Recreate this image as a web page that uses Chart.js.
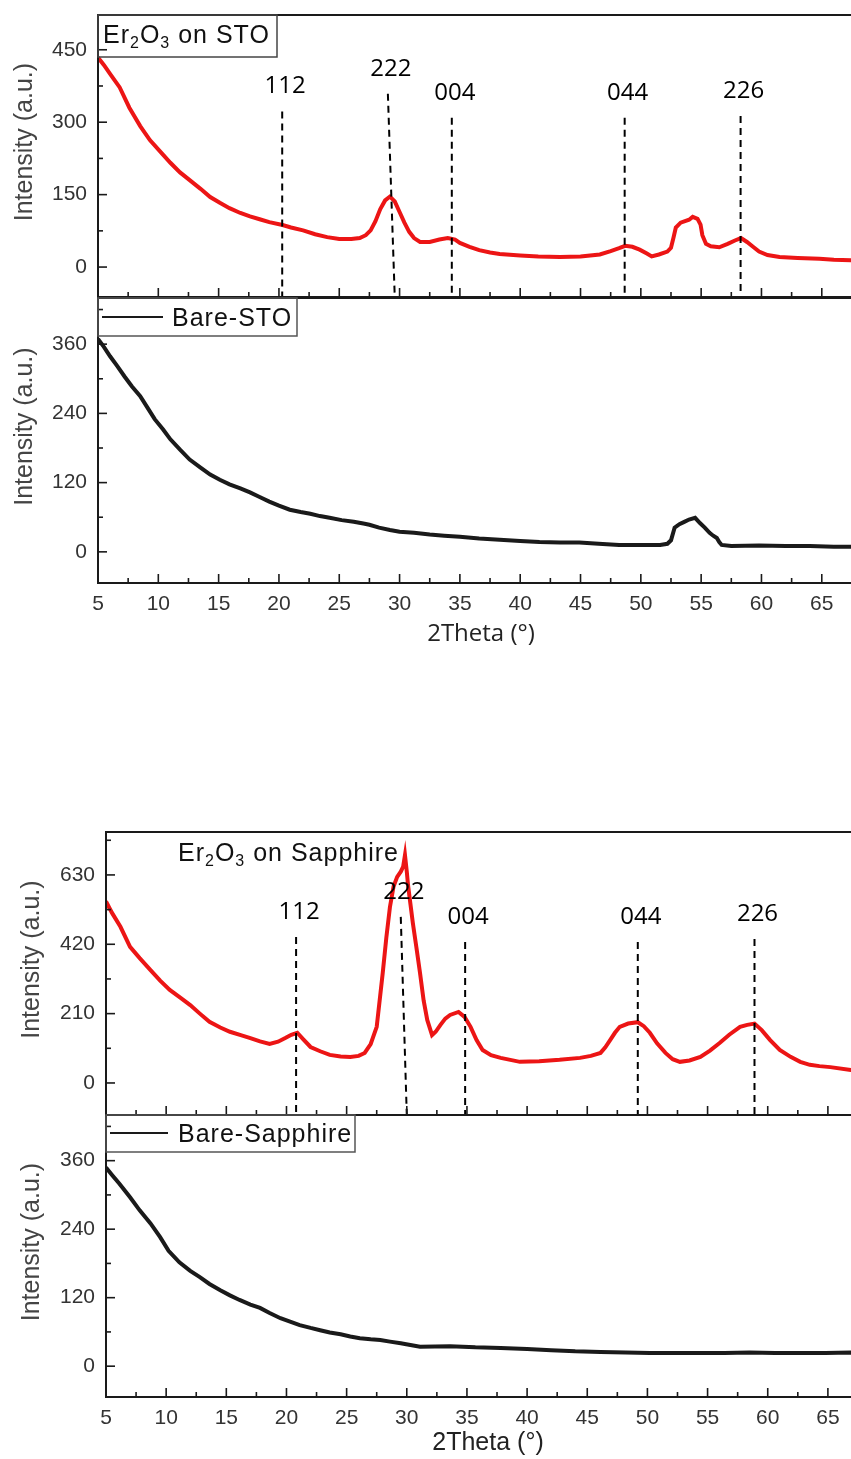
<!DOCTYPE html>
<html>
<head>
<meta charset="utf-8">
<script src="https://cdn.jsdelivr.net/npm/chart.js@4.4.0/dist/chart.umd.min.js"></script>
<style>
  html, body { margin: 0; padding: 0; background: #fff; }
  #page { position: relative; width: 851px; height: 1459px; overflow: hidden; background: #fff; }
  #page canvas { position: absolute; left: 0; }
</style>
</head>
<body>
<div id="page">
  <canvas id="stoFilm" width="870" height="298" style="top:0px"></canvas>
  <canvas id="stoBare" width="870" height="362" style="top:290px"></canvas>
  <canvas id="sapFilm" width="876" height="293" style="top:825px"></canvas>
  <canvas id="sapBare" width="876" height="352" style="top:1108px"></canvas>
</div>
<script>
// 2theta tick labels (shared by all four panels)
const angleTicks = [5, 10, 15, 20, 25, 30, 35, 40, 45, 50, 55, 60, 65];

// y tick labels per panel
const stoFilmTicks = [0, 150, 300, 450];
const stoBareTicks = [0, 120, 240, 360];
const sapFilmTicks = [0, 210, 420, 630];
const sapBareTicks = [0, 120, 240, 360];

// Er2O3 on STO (red)
const stoFilmAngle = [5.0, 5.5, 6.0, 6.8, 7.6, 8.5, 9.3, 10.2, 11.0, 11.8, 12.6, 13.5, 14.3, 15.1, 15.9, 16.8, 17.6, 18.4, 19.2, 20.3,
  21.0, 22.0, 23.0, 24.0, 25.0, 26.0, 26.7, 27.2, 27.6, 28.0, 28.4, 28.8, 29.2, 29.6, 30.0, 30.4, 30.8, 31.2, 31.7, 32.5,
  33.3, 34.0, 34.6, 35.0, 35.8, 36.6, 37.5, 38.3, 40.0, 41.5, 43.3, 45.0, 46.6, 47.5, 48.2, 48.7, 49.3, 49.9, 50.5, 50.9,
  51.5, 52.2, 52.5, 52.7, 52.9, 53.3, 54.0, 54.3, 54.7, 54.95, 55.1, 55.4, 55.8, 56.5, 57.2, 57.8, 58.3, 58.8, 59.3, 59.8,
  60.5, 61.5, 63.0, 64.8, 66.0, 67.4, 68.5];
const stoFilmCounts = [434, 418, 400, 372, 330, 292, 263, 238, 216, 196, 180, 162, 145, 133, 122, 112, 105, 99, 93, 87,
  82, 76, 68, 62, 58, 58, 60, 66, 76, 95, 120, 138, 146, 136, 114, 92, 73, 60, 52, 52,
  57, 60, 57, 50, 42, 35, 30, 27, 24, 22, 21, 22, 26, 33, 39, 44, 42, 36, 28, 22,
  26, 32, 40, 60, 82, 92, 98, 104, 100, 88, 66, 48, 43, 41, 48, 55, 60, 52, 42, 32,
  25, 21, 19, 17, 15, 14, 13];

// Bare-STO (black)
const stoBareAngle = [5.0, 5.5, 6.0, 6.6, 7.2, 7.8, 8.5, 9.1, 9.7, 10.4, 11.0, 11.8, 12.6, 13.5, 14.3, 15.1, 15.9, 16.8, 17.6, 18.4,
  19.2, 20.0, 20.9, 21.8, 22.6, 23.4, 24.2, 25.2, 26.2, 27.0, 27.5, 28.3, 29.2, 30.0, 31.2, 32.5, 33.7, 35.0, 36.6, 38.3,
  40.0, 41.6, 43.3, 44.9, 46.5, 48.2, 50.0, 51.6, 52.2, 52.5, 52.8, 53.2, 53.6, 54.0, 54.5, 54.9, 55.3, 55.7, 56.0, 56.3,
  56.5, 56.7, 57.5, 59.8, 62.0, 64.0, 66.0, 68.5];
const stoBareCounts = [369, 355, 339, 322, 304, 287, 270, 250, 230, 212, 195, 177, 160, 146, 134, 125, 117, 110, 103, 95,
  87, 80, 73, 69, 66, 62, 59, 55, 52, 49, 47, 42, 38, 35, 33, 30, 28, 26, 23, 21,
  19, 17, 16, 16, 14, 12, 12, 12, 14, 20, 42, 48, 52, 56, 59, 50, 42, 33, 28, 24,
  17, 12, 10, 11, 10, 10, 9, 9];

// Er2O3 on Sapphire (red)
const sapFilmAngle = [5.0, 5.5, 6.2, 7.0, 7.8, 8.7, 9.5, 10.3, 11.2, 12.0, 12.8, 13.6, 14.5, 15.3, 16.2, 17.0, 17.8, 18.6, 19.3, 19.9,
  20.4, 20.9, 21.4, 22.0, 22.8, 23.6, 24.5, 25.3, 26.0, 26.5, 27.0, 27.5, 28.0, 28.3, 28.6, 28.9, 29.2, 29.5, 29.7, 29.85,
  30.0, 30.1, 30.5, 30.8, 31.1, 31.4, 31.7, 32.1, 32.4, 32.8, 33.2, 33.6, 34.3, 34.8, 35.3, 35.8, 36.3, 37.0, 37.8, 39.4,
  41.0, 42.7, 44.4, 45.3, 46.1, 46.5, 46.9, 47.3, 47.7, 48.4, 49.2, 49.7, 50.2, 50.8, 51.5, 52.1, 52.7, 53.5, 54.4, 55.2,
  56.0, 56.8, 57.7, 58.3, 58.9, 59.5, 60.2, 61.0, 61.9, 62.7, 63.5, 64.3, 65.2, 66.9, 68.5];
const sapFilmCounts = [550, 515, 473, 412, 378, 342, 310, 282, 258, 236, 210, 185, 168, 155, 145, 136, 126, 118, 125, 136,
  146, 152, 132, 109, 96, 85, 80, 79, 82, 91, 118, 170, 333, 440, 533, 595, 624, 640, 655, 690,
  640, 600, 485, 410, 333, 250, 191, 145, 155, 176, 195, 206, 215, 200, 170, 130, 100, 84, 76, 64,
  66, 70, 76, 82, 91, 108, 130, 152, 170, 180, 184, 172, 152, 120, 91, 72, 64, 68, 79, 98,
  121, 146, 170, 176, 180, 160, 130, 100, 79, 64, 55, 51, 48, 39, 38];

// Bare-Sapphire (black)
const sapBareAngle = [5.0, 5.5, 6.1, 7.0, 7.8, 8.7, 9.5, 10.2, 11.1, 12.0, 12.8, 13.6, 14.5, 15.3, 16.1, 17.0, 17.8, 18.6, 19.5, 20.3,
  21.1, 22.0, 22.8, 23.6, 24.5, 25.3, 26.1, 27.0, 27.8, 28.6, 29.5, 30.3, 31.1, 33.6, 35.7, 37.8, 40.0, 42.0, 44.0, 46.1,
  48.2, 50.2, 52.3, 54.4, 56.4, 58.5, 60.6, 62.7, 64.8, 66.9, 68.5];
const sapBareCounts = [348, 335, 320, 296, 273, 250, 226, 202, 182, 167, 156, 144, 133, 124, 116, 108, 102, 93, 84, 78,
  72, 67, 63, 59, 56, 52, 49, 47, 46, 43, 40, 37, 34, 35, 33, 32, 30, 28, 26, 25,
  24, 23, 23, 23, 23, 24, 23, 23, 23, 24, 23];

// Miller-index markers: name, 2theta at top / foot of the dashed line, intensity at top
const peakNames = ['112', '222', '004', '044', '226'];
const stoPeakTop = [20.27, 29.03, 34.33, 48.66, 58.27];
const stoPeakFoot = [20.27, 29.6, 34.33, 48.66, 58.27];
const stoPeakHeight = [322, 359, 309, 309, 313];
const sapPeakTop = [20.8, 29.5, 34.85, 49.2, 58.9];
const sapPeakFoot = [20.8, 30.0, 34.85, 49.2, 58.9];
const sapPeakHeight = [442, 503, 427, 427, 436];

Chart.defaults.font.family = '"Liberation Sans", Arial, sans-serif';

const RED = '#ec1515';
const INK = '#1a1a1a';

const pts = (xs, ys) => xs.map((x, i) => ({ x: x, y: ys[i] }));

function drawLine(ctx, x0, y0, x1, y1) {
  ctx.beginPath();
  ctx.moveTo(x0, y0);
  ctx.lineTo(x1, y1);
  ctx.stroke();
}

function noPad(s) {
  s.paddingTop = 0;
  s.paddingBottom = 0;
  s.paddingLeft = 0;
  s.paddingRight = 0;
}

// frame, inward ticks, peak names, panel tag and legend
const panelPlugin = {
  id: 'panel',
  afterDraw(chart, args, opts) {
    const { ctx, chartArea: a } = chart;
    const x = chart.scales.x, y = chart.scales.y;
    ctx.save();
    ctx.strokeStyle = INK;
    ctx.lineWidth = 1.6;
    for (let v = 5; v <= x.max; v += 2.5) {
      const px = x.getPixelForValue(v);
      drawLine(ctx, px, a.bottom, px, a.bottom - (v % 5 === 0 ? 9 : 5));
    }
    const step = opts.yStep;
    for (let v = step * Math.ceil(y.min / step); v <= y.max; v += step) {
      const py = y.getPixelForValue(v);
      const major = Math.abs(v % (2 * step)) < 1e-6;
      drawLine(ctx, a.left, py, a.left + (major ? 9 : 5), py);
    }
    ctx.lineWidth = 2;
    ctx.strokeRect(a.left, a.top, a.right - a.left, a.bottom - a.top);

    if (opts.peaks) {
      ctx.fillStyle = '#000';
      ctx.font = '24px "Open Sans"';
      ctx.textAlign = 'center';
      ctx.textBaseline = 'middle';
      opts.peaks.names.forEach((n, i) => {
        const px = x.getPixelForValue(opts.peaks.top[i]) + 3;
        const py = y.getPixelForValue(opts.peaks.height[i]) - 25;
        ctx.fillText(n, px, py);
      });
    }

    ctx.textAlign = 'left';
    ctx.textBaseline = 'alphabetic';
    ctx.fillStyle = '#111';
    ctx.letterSpacing = '1px';
    if (opts.tag) {
      const t = opts.tag;
      if (t.box) {
        ctx.strokeStyle = '#444';
        ctx.lineWidth = 1.5;
        ctx.strokeRect(a.left, a.top, t.box[0], t.box[1]);
      }
      let cx = a.left + t.dx;
      const base = a.top + t.dy + 9;
      t.parts.forEach(p => {
        ctx.font = p[1] ? '16px "Liberation Sans"' : '25px "Liberation Sans"';
        ctx.fillText(p[0], cx, p[1] ? base + 5 : base);
        cx += ctx.measureText(p[0]).width;
      });
    }
    if (opts.legend) {
      const l = opts.legend;
      ctx.strokeStyle = '#555';
      ctx.lineWidth = 1.5;
      ctx.strokeRect(a.left, a.top, l.box[0], l.box[1]);
      ctx.strokeStyle = INK;
      ctx.lineWidth = 2;
      drawLine(ctx, a.left + l.line[0], a.top + l.dy, a.left + l.line[1], a.top + l.dy);
      ctx.font = '25px "Liberation Sans"';
      ctx.fillText(l.text, a.left + l.dx, a.top + l.dy + 9);
    }
    ctx.restore();
  }
};

function makePanel(id, o) {
  const datasets = [];
  if (o.peaks) {
    o.peaks.top.forEach((xt, i) => datasets.push({
      data: [{ x: xt, y: o.peaks.height[i] }, { x: o.peaks.foot[i], y: o.yMin }],
      borderColor: '#000', borderWidth: 2, borderDash: [7, 5],
      pointRadius: 0, order: 0
    }));
  }
  datasets.push({
    data: pts(o.angle, o.counts),
    borderColor: o.color, borderWidth: o.lw,
    pointRadius: 0, tension: 0, order: 1
  });
  return new Chart(document.getElementById(id), {
    type: 'line',
    data: { datasets: datasets },
    options: {
      responsive: false,
      animation: false,
      events: [],
      layout: { padding: { top: o.padTop, right: 6, left: 0, bottom: 0 } },
      scales: {
        x: {
          type: 'linear', min: 5, max: 68.5,
          afterBuildTicks: s => { s.ticks = angleTicks.map(v => ({ value: v })); },
          afterFit: s => { s.height = o.xHeight; noPad(s); },
          grid: { display: false, drawTicks: false },
          border: { display: false },
          ticks: { display: !!o.xTitle, padding: 9, color: '#333', font: { size: 21 }, maxRotation: 0 },
          title: {
            display: !!o.xTitle, text: '2Theta (°)', color: '#222',
            font: o.xTitle ? o.xTitle.font : undefined,
            padding: { top: 0, bottom: o.xTitle ? o.xTitle.pb : 0 }
          }
        },
        y: {
          type: 'linear', min: o.yMin, max: o.yMax,
          afterBuildTicks: s => { s.ticks = o.yTicks.map(v => ({ value: v })); },
          afterFit: s => { s.width = o.left; noPad(s); },
          grid: { display: false, drawTicks: false },
          border: { display: false },
          ticks: { padding: 11, color: '#333', font: { size: 21 } },
          title: {
            display: true, text: '    Intensity (a.u.)', color: '#444',
            font: { size: 25, lineHeight: 1.2 },
            padding: { top: o.titlePad, bottom: 0 }
          }
        }
      },
      plugins: {
        legend: { display: false },
        tooltip: { enabled: false },
        panel: o.panel
      }
    },
    plugins: [panelPlugin]
  });
}

makePanel('stoFilm', {
  angle: stoFilmAngle, counts: stoFilmCounts, color: RED, lw: 4,
  yMin: -62, yMax: 522, yTicks: stoFilmTicks, left: 98, padTop: 15, xHeight: 1, titlePad: 10,
  peaks: { top: stoPeakTop, foot: stoPeakFoot, height: stoPeakHeight },
  panel: {
    yStep: 75,
    peaks: { names: peakNames, top: stoPeakTop, height: stoPeakHeight },
    tag: { parts: [['Er', 0], ['2', 1], ['O', 0], ['3', 1], [' on STO', 0]], dx: 5, dy: 19, box: [179, 42] }
  }
});

makePanel('stoBare', {
  angle: stoBareAngle, counts: stoBareCounts, color: INK, lw: 4,
  yMin: -54, yMax: 440, yTicks: stoBareTicks, left: 98, padTop: 8, xHeight: 69, titlePad: 10,
  xTitle: { font: { family: '"Open Sans"', size: 24, lineHeight: 1.2 }, pb: 3 },
  panel: {
    yStep: 60,
    legend: { text: 'Bare-STO', line: [4, 65], dx: 74, dy: 19, box: [199, 38] }
  }
});

makePanel('sapFilm', {
  angle: sapFilmAngle, counts: sapFilmCounts, color: RED, lw: 4,
  yMin: -97, yMax: 760, yTicks: sapFilmTicks, left: 106, padTop: 7, xHeight: 3, titlePad: 17,
  peaks: { top: sapPeakTop, foot: sapPeakFoot, height: sapPeakHeight },
  panel: {
    yStep: 105,
    peaks: { names: peakNames, top: sapPeakTop, height: sapPeakHeight },
    tag: { parts: [['Er', 0], ['2', 1], ['O', 0], ['3', 1], [' on Sapphire', 0]], dx: 72, dy: 20 }
  }
});

makePanel('sapBare', {
  angle: sapBareAngle, counts: sapBareCounts, color: INK, lw: 4,
  yMin: -54, yMax: 440, yTicks: sapBareTicks, left: 106, padTop: 7, xHeight: 63, titlePad: 17,
  xTitle: { font: { family: '"Liberation Sans"', size: 25, lineHeight: 1.2 }, pb: 2 },
  panel: {
    yStep: 60,
    legend: { text: 'Bare-Sapphire', line: [4, 62], dx: 72, dy: 18, box: [249, 37] }
  }
});
</script>
</body>
</html>
